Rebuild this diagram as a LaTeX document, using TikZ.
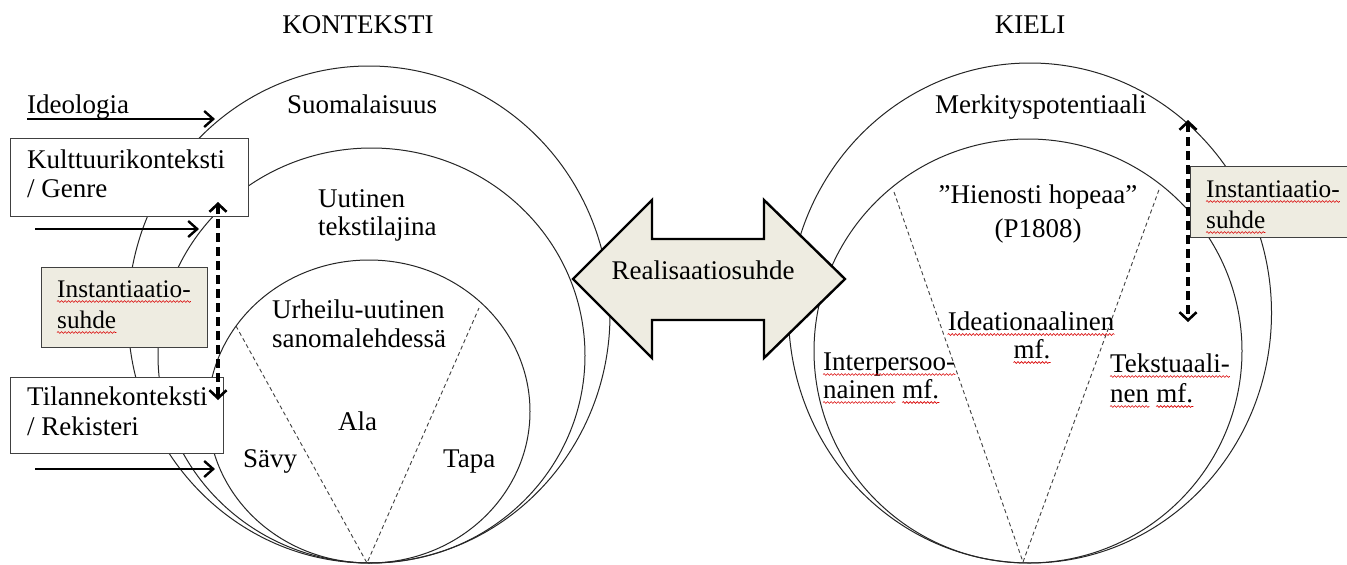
\documentclass[tikz,border=0pt]{standalone}
\usepackage{fontspec}
\setmainfont{Liberation Serif}
\usetikzlibrary{arrows.meta,decorations.pathmorphing}
\definecolor{beige}{HTML}{EEECE1}
\definecolor{linegray}{HTML}{404040}
\begin{document}
\begin{tikzpicture}[x=1pt,y=-1pt,
  font=\fontsize{27}{30}\selectfont,
  txt/.style={inner sep=0pt, anchor=base west},
  ctxt/.style={inner sep=0pt, anchor=base},
  small/.style={font=\fontsize{25.3}{28}\selectfont},
  ring/.style={draw=black!85, line width=1pt},
  sector/.style={draw=black!75, line width=0.9pt, dash pattern=on 4pt off 3pt},
  box/.style={draw=linegray, line width=1.3pt, fill=white, inner sep=0pt, anchor=north west},
  instbox/.style={draw=linegray, line width=1.3pt, fill=beige, inner sep=0pt, anchor=north west},
  feed/.style={line width=2.6pt, -{Straight Barb[length=9pt,width=16pt,line width=2.4pt]}},
  inst/.style={line width=3.2pt, dash pattern=on 9pt off 5pt,
    {Straight Barb[length=8pt,width=17pt,line width=2.6pt]}-{Straight Barb[length=8pt,width=17pt,line width=2.6pt]}},
  squig/.style={draw=red!85!black, line width=0.6pt, decorate,
    decoration={snake, amplitude=0.9pt, segment length=3.5pt}},
  bigarrow/.style={draw=black, line width=2.4pt, fill=beige, line join=miter}
]
\useasboundingbox (0,0) rectangle (1347,565);
\fill[white] (0,0) rectangle (1347,565);

% ---- left circles (context) ----
\draw[ring] (369,314.5) ellipse [x radius=241pt, y radius=248.5pt];
\draw[ring] (371.5,355.5) ellipse [x radius=213.5pt, y radius=207.5pt];
\draw[ring] (369,411.5) ellipse [x radius=161pt, y radius=151.5pt];
\coordinate (Lapex) at (367,563);
\coordinate (Lleft) at (236,326);
\coordinate (Lright) at (479,308);
\draw[sector] (Lleft) -- (Lapex) -- (Lright);

% ---- right circles (language) ----
\draw[ring] (1030,313) ellipse [x radius=241.5pt, y radius=250pt];
\draw[ring] (1028,351) ellipse [x radius=214pt, y radius=212pt];
\coordinate (Rapex) at (1023,562);
\coordinate (Rleft) at (894,192);
\coordinate (Rright) at (1160,187);
\draw[sector] (Rleft) -- (Rapex) -- (Rright);

% ---- big double arrow ----
\draw[bigarrow] (573,279) -- (652,200) -- (652,239) -- (764,239) -- (764,200)
  -- (845,279) -- (764,358) -- (764,320) -- (652,320) -- (652,358) -- cycle;
\node[ctxt] (real) at (703,279) {Realisaatiosuhde};

% ---- titles ----
\node[ctxt] (kontekstiT) at (358,33) {KONTEKSTI};
\node[ctxt] (kieliT) at (1030,33) {KIELI};

% ---- left boxes ----
\node[box, minimum width=238pt, minimum height=78pt] (kult) at (10,138) {};
\node[instbox, minimum width=166pt, minimum height=80pt] (instL) at (41,267) {};
\node[box, minimum width=213pt, minimum height=76pt] (tilan) at (10,377) {};

% ---- right box (runs off the right edge) ----
\node[instbox, minimum width=175pt, minimum height=71pt] (instR) at (1190,166) {};

% ---- left texts ----
\node[txt] (ideo) at (27,113) {Ideologia};
\node[txt] (kult1) at (27,168) {Kulttuurikonteksti};
\node[txt] (kult2) at (27,197) {/ Genre};
\node[txt, small] (instL1) at (57,297) {Instantiaatio-};
\node[txt, small] (instL2) at (57,328) {suhde};
\node[txt] (tilan1) at (27,405) {Tilannekonteksti};
\node[txt] (tilan2) at (27,435) {/ Rekisteri};

% ---- circle texts left ----
\node[ctxt] (suomi) at (362,113) {Suomalaisuus};
\node[txt] (uut1) at (318,207) {Uutinen};
\node[txt] (uut2) at (318,235) {tekstilajina};
\node[txt] (urh1) at (272,318) {Urheilu-uutinen};
\node[txt] (urh2) at (272,347) {sanomalehdessä};
\node[txt] (ala) at (338,430) {Ala};
\node[txt] (savy) at (243,467) {Sävy};
\node[txt] (tapa) at (443,467) {Tapa};

% ---- circle texts right ----
\node[txt] (merk) at (935,113) {Merkityspotentiaali};
\node[ctxt] (hien1) at (1038,203) {”Hienosti hopeaa”};
\node[ctxt] (hien2) at (1038,237) {(P1808)};
\node[ctxt] (idea1) at (1031,330) {Ideationaalinen};
\node[ctxt] (idea2) at (1032,358) {mf.};
\node[txt] (ip1) at (823,370) {Interpersoo-};
\node[txt] (ip2) at (823,398) {nainen};
\node[txt] (ip3) at ([xshift=6.75pt]ip2.base east) {mf.};
\node[txt] (tk1) at (1110,372) {Tekstuaali-};
\node[txt] (tk2) at (1110,402) {nen};
\node[txt] (tk3) at ([xshift=6.75pt]tk2.base east) {mf.};
\node[txt, small] (instR1) at (1206,197) {Instantiaatio-};
\node[txt, small] (instR2) at (1206,228) {suhde};

% ---- spell-check underlines ----
\foreach \n in {instL1,instL2,instR1,instR2,idea1,idea2,ip1,ip2,ip3,tk1,tk2,tk3}
  \draw[squig] ([yshift=-4.5pt]\n.base west) -- ([yshift=-4.5pt]\n.base east);

% ---- feed arrows ----
\coordinate (f1a) at (27,119);  \coordinate (f1b) at (215,119);
\coordinate (f2a) at (35,229);  \coordinate (f2b) at (199,229);
\coordinate (f3a) at (35,469);  \coordinate (f3b) at (215,469);
\draw[feed] (f1a) -- (f1b);
\draw[feed] (f2a) -- (f2b);
\draw[feed] (f3a) -- (f3b);

% ---- instantiation arrows ----
\coordinate (iLtop) at (218,202); \coordinate (iLbot) at (218,400);
\draw[inst] (iLtop) -- (iLbot);
\coordinate (iRtop) at (1188,120); \coordinate (iRbot) at (1188,322);
\draw[inst] (iRtop) -- (iRbot);
\end{tikzpicture}
\end{document}
